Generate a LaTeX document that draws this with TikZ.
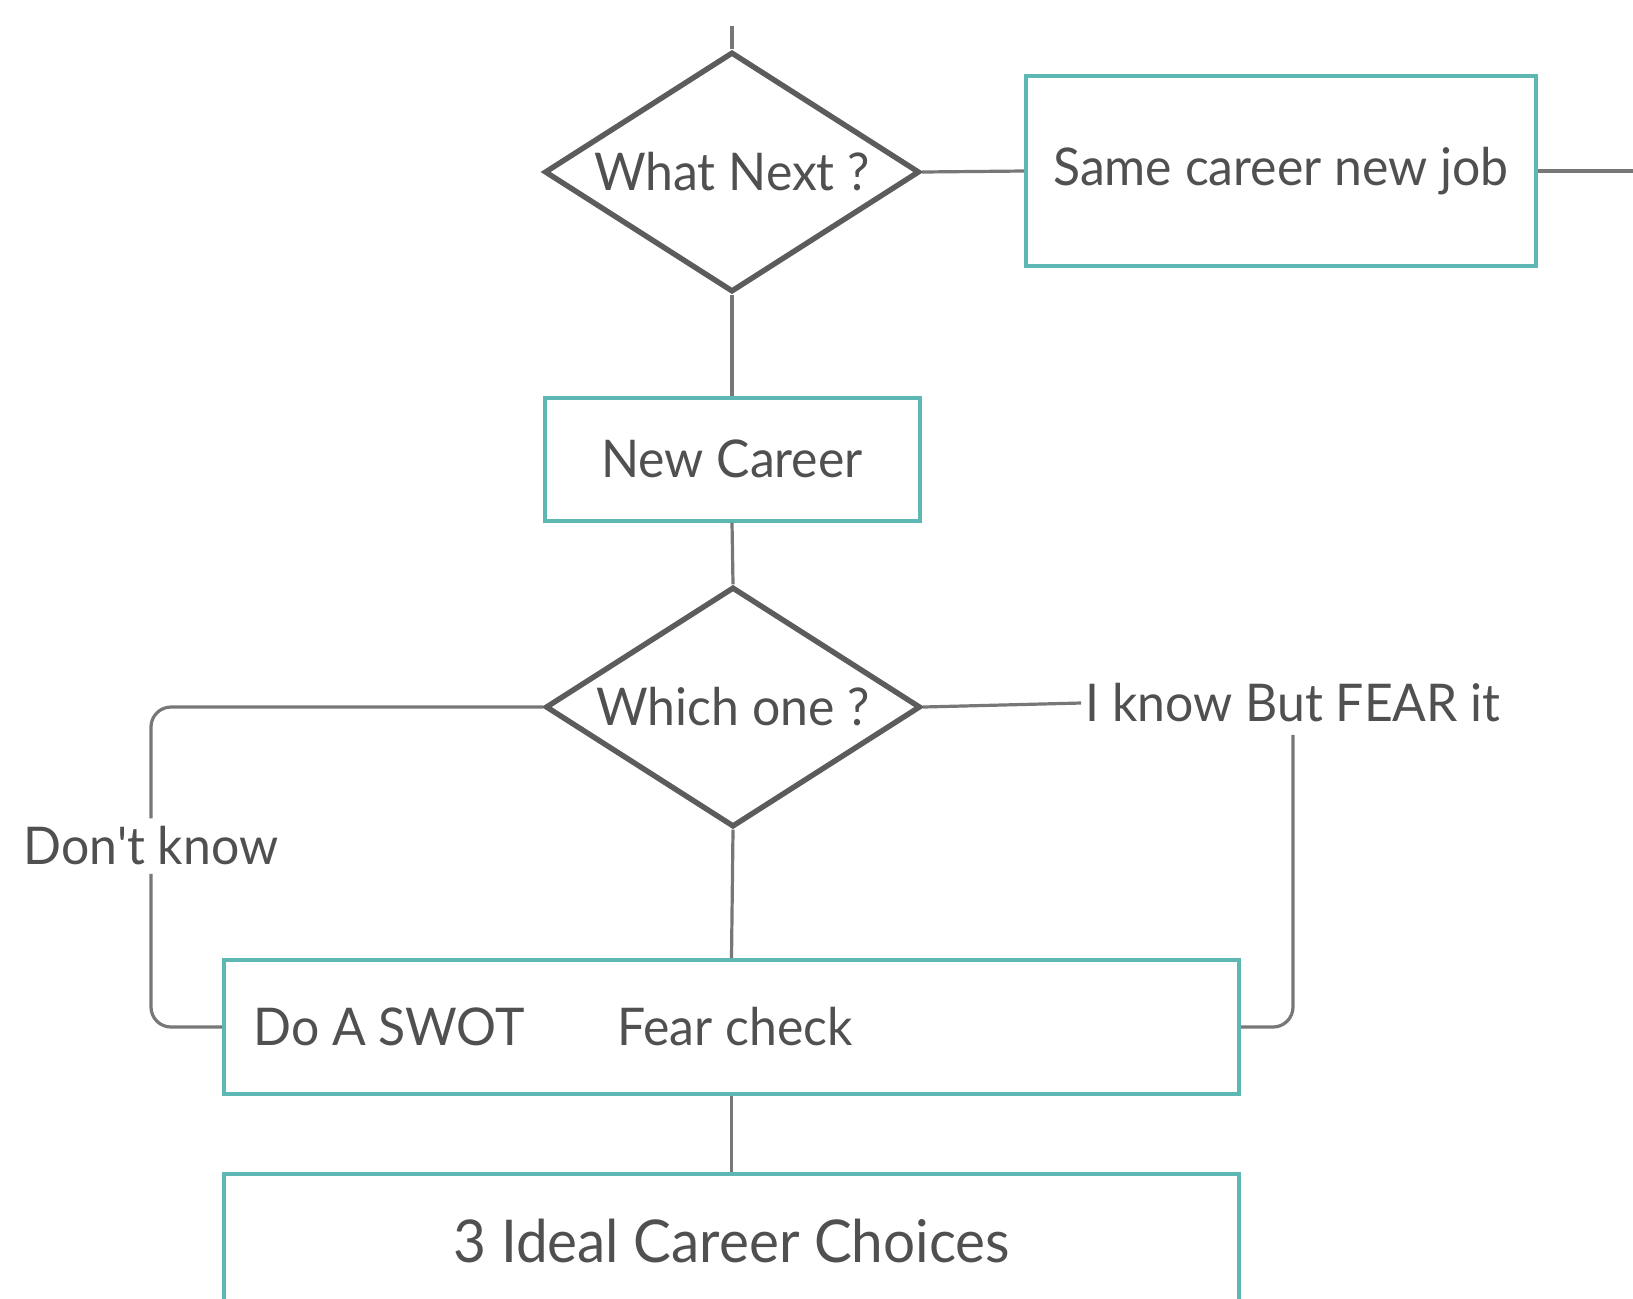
\documentclass[tikz,border=0pt]{standalone}
\usepackage{fontspec}
\newfontfamily\lato[FakeStretch=0.96]{Lato}
\usetikzlibrary{shapes.geometric}
\definecolor{tealb}{HTML}{5DB8B4}
\definecolor{diagray}{HTML}{5C5C5C}
\definecolor{linegray}{HTML}{777777}
\definecolor{textgray}{HTML}{505050}
\tikzset{
  dia/.style={diamond, draw=diagray, line width=2.7pt, minimum width=187.5pt, minimum height=120pt, inner sep=0pt},
  box/.style={rectangle, draw=tealb, line width=2pt, inner sep=0pt},
  conn/.style={draw=linegray, line width=1.6pt},
  txt/.style={text=textgray, font=\lato\fontsize{26}{31}\selectfont, inner sep=0pt},
  bigtxt/.style={text=textgray, font=\lato\fontsize{29.5}{35}\selectfont, inner sep=0pt}
}
\begin{document}
\begin{tikzpicture}[x=0.5pt,y=-0.5pt]
\useasboundingbox (0,0) rectangle (1633,1298);
\clip (0,0) rectangle (1633,1298);
% nodes
\node[dia] (wn) at (732,172) {};
\node[txt] (wnt) at (732,172) {What Next ?};
\node[box, minimum width=255pt, minimum height=95pt] (same) at (1281,171) {};
\node[txt] (samet) at (1281,171) {Same career new job};
\node[box, minimum width=187.5pt, minimum height=61.5pt] (newc) at (732,459) {};
\node[txt] (newct) at (732,459) {New Career};
\node[dia] (wo) at (733,707) {};
\node[txt] (wot) at (733,707) {Which one ?};
\node[txt, inner ysep=4pt] (dk) at (151,846) {Don't know};
\node[txt, inner ysep=6pt, inner xsep=2pt] (fear) at (1293,703) {I know But FEAR it};
\node[box, minimum width=507.5pt, minimum height=67pt] (swot) at (731.5,1027) {};
\node[txt, anchor=west] (swott) at (253,1027) {Do A SWOT};
\node[txt, anchor=west] (fct) at (617,1027) {Fear check};
\node[box, minimum width=507.5pt, minimum height=73pt] (ideal) at (731.5,1247) {};
\node[bigtxt] (idealt) at (732,1241) {3 Ideal Career Choices};
\coordinate (top) at (732,26);
\coordinate (rend) at (1640,171);
% connectors
\draw[conn] (top) -- (wn.north);
\draw[conn] (wn.east) -- (same.west);
\draw[conn] (same.east) -- (rend);
\draw[conn] (wn.south) -- (newc.north);
\draw[conn] (newc.south) -- (wo.north);
\draw[conn] (wo.south) -- (swot.north);
\draw[conn] (swot.south) -- (ideal.north);
\draw[conn, rounded corners=10pt] (wo.west) -| (dk.north);
\draw[conn, rounded corners=10pt] (dk.south) |- (swot.west);
\draw[conn] (wo.east) -- (fear.west);
\draw[conn, rounded corners=10pt] (fear.south) |- (swot.east);
\end{tikzpicture}
\end{document}
